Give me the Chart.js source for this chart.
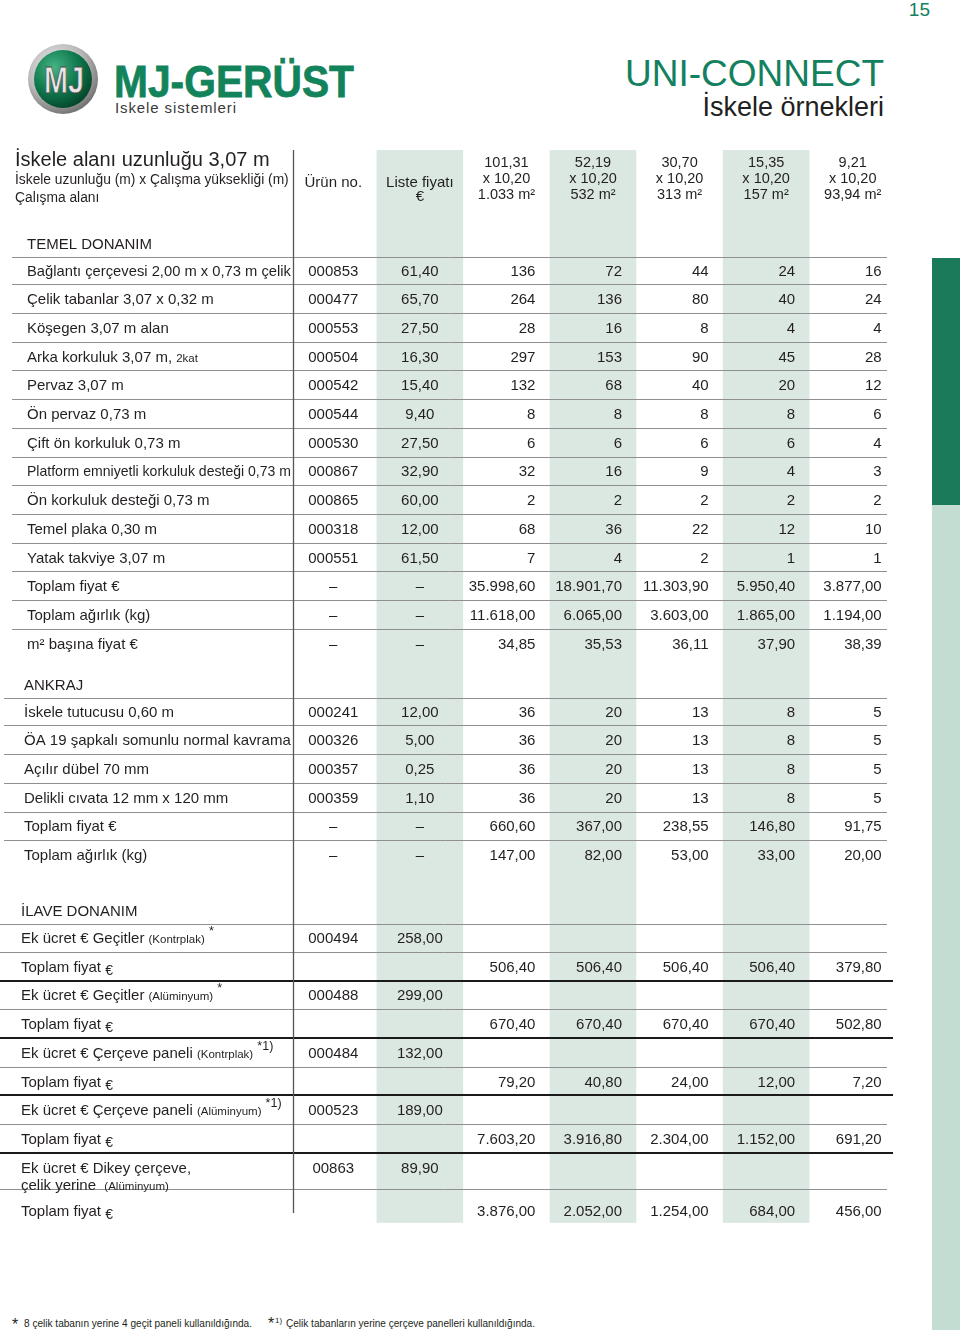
<!DOCTYPE html>
<html lang="tr">
<head>
<meta charset="utf-8">
<title>UNI-CONNECT – İskele örnekleri</title>
<script src="https://cdn.jsdelivr.net/npm/chart.js@4.4.1/dist/chart.umd.min.js"></script>
<style>
  html, body { margin: 0; padding: 0; background: #fff; }
  body { width: 960px; height: 1337px; position: relative; overflow: hidden; font-family: "Liberation Sans", Arial, sans-serif; color: #231f20; }
  #page { position: absolute; left: 0; top: 0; }
  #table-wrap { position: absolute; left: 0; top: 140px; width: 930px; height: 1100px; }
</style>
</head>
<body>
<svg id="page" width="960" height="1337" font-family="Liberation Sans, Arial, sans-serif">
  <defs>
    <radialGradient id="ring" cx="40%" cy="35%" r="70%">
      <stop offset="0" stop-color="#f6f6f6"/>
      <stop offset="0.6" stop-color="#b8b8b8"/>
      <stop offset="1" stop-color="#6a6a6a"/>
    </radialGradient>
    <radialGradient id="ball" cx="35%" cy="30%" r="75%">
      <stop offset="0" stop-color="#46b383"/>
      <stop offset="0.55" stop-color="#0f7a4e"/>
      <stop offset="1" stop-color="#05442a"/>
    </radialGradient>
  </defs>
  <!-- logo -->
  <circle cx="63" cy="79" r="35" fill="url(#ring)"/>
  <circle cx="63" cy="79" r="29" fill="url(#ball)"/>
  <text x="64" y="93" text-anchor="middle" font-weight="bold" font-size="36" fill="#e6e6e6" stroke="#4a4a4a" stroke-width="0.8" textLength="40" lengthAdjust="spacingAndGlyphs">MJ</text>
  <text x="114" y="97" font-weight="bold" font-size="45" fill="#12835a" stroke="#12835a" stroke-width="0.8" textLength="240" lengthAdjust="spacingAndGlyphs">MJ-GERÜST</text>
  <text x="115" y="113" font-size="15" fill="#3a3a3a" textLength="121" lengthAdjust="spacing">Iskele sistemleri</text>
  <!-- page number and title -->
  <text x="930" y="16" text-anchor="end" font-size="19" fill="#138060">15</text>
  <text x="884" y="86" text-anchor="end" font-size="37" fill="#138060">UNI-CONNECT</text>
  <text x="884" y="116" text-anchor="end" font-size="27" fill="#231f20">İskele örnekleri</text>
  <!-- right side tab -->
  <rect x="932" y="258" width="28" height="247" fill="#1b7a59"/>
  <rect x="932" y="505" width="28" height="825" fill="#c4ddd3"/>
  <!-- footnotes -->
  <text x="12" y="1330" font-size="16" fill="#231f20">*</text>
  <text x="24" y="1327" font-size="10" fill="#231f20" textLength="228" lengthAdjust="spacingAndGlyphs">8 çelik tabanın yerine 4 geçit paneli kullanıldığında.</text>
  <text x="268" y="1329" font-size="16" fill="#231f20">*</text>
  <text x="275" y="1323" font-size="8" fill="#231f20">1)</text>
  <text x="286" y="1327" font-size="10" fill="#231f20" textLength="249" lengthAdjust="spacingAndGlyphs">Çelik tabanların yerine çerçeve panelleri kullanıldığında.</text>
</svg>
<div id="table-wrap"><canvas id="tableChart" width="930" height="1100"></canvas></div>
<script>
// --- Data ---
const columns = ['urun', 'fiyat', 'a1033', 'a532', 'a313', 'a157', 'a94'];
const columnHeads = ['Ürün no.', 'Liste fiyatı\n€'];
const headerTitle = 'İskele alanı uzunluğu 3,07 m';
const headerLines = ['İskele uzunluğu (m) x Çalışma yüksekliği (m)', 'Çalışma alanı'];
const scenarioLength = ['101,31', '52,19', '30,70', '15,35', '9,21'];
const scenarioHeight = ['x 10,20', 'x 10,20', 'x 10,20', 'x 10,20', 'x 10,20'];
const scenarioArea = ['1.033 m²', '532 m²', '313 m²', '157 m²', '93,94 m²'];

// TEMEL DONANIM
const temelLabels = [
    'Bağlantı çerçevesi 2,00 m x 0,73 m çelik',
    'Çelik tabanlar 3,07 x 0,32 m',
    'Köşegen 3,07 m alan',
    'Arka korkuluk 3,07 m, {2kat}',
    'Pervaz 3,07 m',
    'Ön pervaz 0,73 m',
    'Çift ön korkuluk 0,73 m',
    'Platform emniyetli korkuluk desteği 0,73 m',
    'Ön korkuluk desteği 0,73 m',
    'Temel plaka 0,30 m',
    'Yatak takviye 3,07 m'
];
const temelUrunNo = ['000853', '000477', '000553', '000504', '000542', '000544', '000530', '000867', '000865', '000318', '000551'];
const temelFiyat = [61.40, 65.70, 27.50, 16.30, 15.40, 9.40, 27.50, 32.90, 60.00, 12.00, 61.50];
const temelAdet1033 = [136, 264, 28, 297, 132, 8, 6, 32, 2, 68, 7];
const temelAdet532 = [72, 136, 16, 153, 68, 8, 6, 16, 2, 36, 4];
const temelAdet313 = [44, 80, 8, 90, 40, 8, 6, 9, 2, 22, 2];
const temelAdet157 = [24, 40, 4, 45, 20, 8, 6, 4, 2, 12, 1];
const temelAdet94 = [16, 24, 4, 28, 12, 6, 4, 3, 2, 10, 1];
const temelToplamFiyat = [35998.60, 18901.70, 11303.90, 5950.40, 3877.00];
const temelToplamAgirlik = [11618, 6065, 3603, 1865, 1194];
const temelM2Fiyat = [34.85, 35.53, 36.11, 37.90, 38.39];

// ANKRAJ
const ankrajLabels = ['İskele tutucusu 0,60 m', 'ÖA 19 şapkalı somunlu normal kavrama', 'Açılır dübel 70 mm', 'Delikli cıvata 12 mm x 120 mm'];
const ankrajUrunNo = ['000241', '000326', '000357', '000359'];
const ankrajFiyat = [12.00, 5.00, 0.25, 1.10];
const ankrajAdet1033 = [36, 36, 36, 36];
const ankrajAdet532 = [20, 20, 20, 20];
const ankrajAdet313 = [13, 13, 13, 13];
const ankrajAdet157 = [8, 8, 8, 8];
const ankrajAdet94 = [5, 5, 5, 5];
const ankrajToplamFiyat = [660.60, 367.00, 238.55, 146.80, 91.75];
const ankrajToplamAgirlik = [147, 82, 53, 33, 20];

// İLAVE DONANIM
const ilaveLabels = [
    'Ek ücret € Geçitler {(Kontrplak)} ^*',
    'Ek ücret € Geçitler {(Alüminyum)} ^*',
    'Ek ücret € Çerçeve paneli {(Kontrplak)} ^*1)',
    'Ek ücret € Çerçeve paneli {(Alüminyum)} ^*1)',
    'Ek ücret € Dikey çerçeve,\nçelik yerine  {(Alüminyum)}'
];
const ilaveUrunNo = ['000494', '000488', '000484', '000523', '00863'];
const ilaveFiyat = [258.00, 299.00, 132.00, 189.00, 89.90];
const ilaveToplam1033 = [506.40, 670.40, 79.20, 7603.20, 3876.00];
const ilaveToplam532 = [506.40, 670.40, 40.80, 3916.80, 2052.00];
const ilaveToplam313 = [506.40, 670.40, 24.00, 2304.00, 1254.00];
const ilaveToplam157 = [506.40, 670.40, 12.00, 1152.00, 684.00];
const ilaveToplam94 = [379.80, 502.80, 7.20, 691.20, 456.00];

// --- Layout / style ---
const FONT = '"Liberation Sans", Arial, sans-serif';
const TEXT = '#231f20';
const BAND = '#dbe8e2';
const RULE = '#8f8f8f';
const SHADED = [1, 3, 5];
const ROW = 28.7;                 // px per table row
const HEADER_POS = 1.32;          // header row, in row units
const SECTION_GAP = [3.21, 2.37, 2.89];
const TITLE_LEAD = 0.93;
const INDENT = [27, 24, 21];
const RULE_START = [12, 4, 0];
const LABEL_RIGHT = 291;          // labels squeeze to fit before the divider

function fmt2(v) {
    const [int, dec] = v.toFixed(2).split('.');
    return int.replace(/\B(?=(\d{3})+(?!\d))/g, '.') + ',' + dec;
}

function cellsOf(urun, fiyat, five) {
    const c = { urun, fiyat };
    five.forEach((v, i) => { c[columns[i + 2]] = v; });
    return c;
}

// Build table rows
const rows = [];
let cursor = HEADER_POS, step = 0;

function addTitle(sec, title) {
    cursor += SECTION_GAP[sec];
    step = 0;
    rows.push({ sec, pos: cursor - TITLE_LEAD, label: title, cells: {}, rule: 'thin' });
}

function addRow(sec, label, cells, rule, span) {
    cursor += step;
    step = span || 1;
    rows.push({ sec, pos: cursor, label, cells, rule });
}

const temelAdet = [temelAdet1033, temelAdet532, temelAdet313, temelAdet157, temelAdet94];
addTitle(0, 'TEMEL DONANIM');
temelLabels.forEach((lab, r) => {
    addRow(0, lab, cellsOf(temelUrunNo[r], fmt2(temelFiyat[r]), temelAdet.map(s => String(s[r]))), 'thin');
});
addRow(0, 'Toplam fiyat €', cellsOf('–', '–', temelToplamFiyat.map(fmt2)), 'thin');
addRow(0, 'Toplam ağırlık (kg)', cellsOf('–', '–', temelToplamAgirlik.map(fmt2)), 'thin');
addRow(0, 'm² başına fiyat €', cellsOf('–', '–', temelM2Fiyat.map(fmt2)), null);

const ankrajAdet = [ankrajAdet1033, ankrajAdet532, ankrajAdet313, ankrajAdet157, ankrajAdet94];
addTitle(1, 'ANKRAJ');
ankrajLabels.forEach((lab, r) => {
    addRow(1, lab, cellsOf(ankrajUrunNo[r], fmt2(ankrajFiyat[r]), ankrajAdet.map(s => String(s[r]))), 'thin');
});
addRow(1, 'Toplam fiyat €', cellsOf('–', '–', ankrajToplamFiyat.map(fmt2)), 'thin');
addRow(1, 'Toplam ağırlık (kg)', cellsOf('–', '–', ankrajToplamAgirlik.map(fmt2)), null);

const ilaveToplam = [ilaveToplam1033, ilaveToplam532, ilaveToplam313, ilaveToplam157, ilaveToplam94];
addTitle(2, 'İLAVE DONANIM');
ilaveLabels.forEach((lab, r) => {
    const twoLine = lab.includes('\n');
    addRow(2, lab, { urun: ilaveUrunNo[r], fiyat: fmt2(ilaveFiyat[r]) }, 'thin', twoLine ? 1.5 : 1);
    const last = r === ilaveLabels.length - 1;
    addRow(2, 'Toplam fiyat _€', cellsOf(null, null, ilaveToplam.map(s => fmt2(s[r]))), last ? null : 'thick');
});

// One invisible point per filled cell, positioned by the chart scales
const datasets = columns.map(key => ({
    label: key,
    data: rows.filter(r => r.cells[key] != null).map(r => ({ x: key, y: r.pos, text: r.cells[key] })),
    pointRadius: 0
}));

// Label text with {small}, ^superscript and _lowered parts
function richParts(str) {
    const re = /\{([^}]*)\}|\^(.*)$|_(.*)$|([^{^_]+)/g;
    const parts = [];
    let m;
    while ((m = re.exec(str))) {
        if (m[1] != null) parts.push({ text: m[1], size: 11.5, dy: 0 });
        else if (m[2] != null) parts.push({ text: m[2], size: 12.5, dy: -8 });
        else if (m[3] != null) parts.push({ text: m[3], size: 14, dy: 3 });
        else parts.push({ text: m[4], size: 15, dy: 0 });
    }
    return parts;
}

function drawRich(ctx, str, x, y, maxW) {
    const parts = richParts(str);
    let total = 0;
    parts.forEach(p => { ctx.font = p.size + 'px ' + FONT; p.w = ctx.measureText(p.text).width; total += p.w; });
    const k = total > maxW ? maxW / total : 1;
    ctx.save();
    ctx.translate(x, y);
    ctx.scale(k, 1);
    let cx = 0;
    parts.forEach(p => {
        ctx.font = p.size + 'px ' + FONT;
        ctx.fillText(p.text, cx, p.dy);
        cx += p.w;
    });
    ctx.restore();
}

const tablePlugin = {
    id: 'tablePlugin',
    beforeDatasetsDraw(chart) {
        const { ctx, scales: { x, y } } = chart;
        const slot = x.width / columns.length;
        const last = rows[rows.length - 1].pos;
        const top = y.getPixelForValue(HEADER_POS - 0.97);
        const bottom = y.getPixelForValue(last + 0.44);
        ctx.save();
        ctx.fillStyle = BAND;
        SHADED.forEach(i => ctx.fillRect(x.getPixelForValue(i) - slot / 2, top, slot, bottom - top));

        rows.forEach((r, i) => {
            if (!r.rule) return;
            const yy = Math.round(y.getPixelForValue((r.pos + rows[i + 1].pos) / 2));
            ctx.beginPath();
            if (r.rule === 'thick') {
                ctx.strokeStyle = '#1a1a1a';
                ctx.lineWidth = 2;
                ctx.moveTo(0, yy);
                ctx.lineTo(x.right - 3, yy);
            } else {
                ctx.strokeStyle = RULE;
                ctx.lineWidth = 1;
                ctx.moveTo(RULE_START[r.sec], yy + 0.5);
                ctx.lineTo(x.right - 9, yy + 0.5);
            }
            ctx.stroke();
        });

        ctx.strokeStyle = '#555';
        ctx.lineWidth = 1.3;
        ctx.beginPath();
        ctx.moveTo(x.left + 3.5, top);
        ctx.lineTo(x.left + 3.5, y.getPixelForValue(last + 0.1));
        ctx.stroke();
        ctx.restore();
    },
    afterDatasetsDraw(chart) {
        const { ctx, scales: { x, y } } = chart;
        ctx.save();
        ctx.fillStyle = TEXT;
        ctx.textBaseline = 'alphabetic';

        // header row
        const hy = y.getPixelForValue(HEADER_POS);
        ctx.textAlign = 'left';
        ctx.font = '20px ' + FONT;
        ctx.fillText(headerTitle, 15, hy - 12);
        ctx.font = '13.8px ' + FONT;
        ctx.fillText(headerLines[0], 15, hy + 6);
        ctx.fillText(headerLines[1], 15, hy + 24);

        ctx.textAlign = 'center';
        ctx.font = '15px ' + FONT;
        columnHeads.forEach((h, i) => {
            h.split('\n').forEach((line, k) => ctx.fillText(line, x.getPixelForValue(i), hy + 9 + k * 14));
        });
        ctx.font = '14.5px ' + FONT;
        scenarioLength.forEach((s, i) => {
            const cx = x.getPixelForValue(i + 2);
            ctx.fillText(s, cx, hy - 11);
            ctx.fillText(scenarioHeight[i], cx, hy + 5);
            ctx.fillText(scenarioArea[i], cx, hy + 21);
        });

        // row labels
        ctx.textAlign = 'left';
        rows.forEach(r => {
            const by = y.getPixelForValue(r.pos) + 5.5;
            r.label.split('\n').forEach((line, k) => {
                drawRich(ctx, line, INDENT[r.sec], by + k * 17, LABEL_RIGHT - INDENT[r.sec]);
            });
        });

        // cells
        ctx.font = '15px ' + FONT;
        chart.data.datasets.forEach((ds, i) => {
            const meta = chart.getDatasetMeta(i);
            const qty = i >= 2;
            ctx.textAlign = qty ? 'right' : 'center';
            meta.data.forEach((pt, j) => {
                ctx.fillText(ds.data[j].text, pt.x + (qty ? 29 : 0), pt.y + 5.5);
            });
        });
        ctx.restore();
    }
};

const canvas = document.getElementById('tableChart');
new Chart(canvas.getContext('2d'), {
    type: 'scatter',
    data: { datasets },
    options: {
        responsive: false,
        animation: false,
        devicePixelRatio: 1,
        events: [],
        layout: { padding: { left: 290, right: 34, top: 0, bottom: 0 } },
        plugins: { legend: { display: false }, tooltip: { enabled: false } },
        elements: { point: { radius: 0 } },
        scales: {
            x: { type: 'category', labels: columns, offset: true, display: false },
            y: { type: 'linear', reverse: true, min: 0, max: canvas.height / ROW, display: false }
        }
    },
    plugins: [tablePlugin]
});
</script>
</body>
</html>
